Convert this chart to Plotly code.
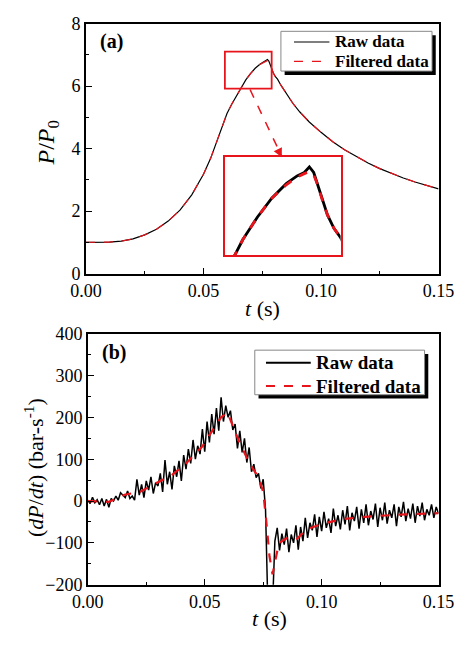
import plotly.graph_objects as go

# ---------------- data: panel (a) ----------------
t_p = [0, 0.005, 0.010, 0.015, 0.020, 0.025, 0.030, 0.035, 0.040, 0.045, 0.050,
       0.053, 0.056, 0.058, 0.060, 0.062, 0.064, 0.066, 0.068, 0.070, 0.072, 0.074,
       0.0755, 0.0765, 0.0772, 0.0778, 0.0784, 0.0790, 0.0797, 0.0806, 0.0815,
       0.0830, 0.0850, 0.0880, 0.0910, 0.0950, 0.1000, 0.1050, 0.1100, 0.1150,
       0.1200, 0.1250, 0.1300, 0.1350, 0.1400, 0.1450, 0.1500]
raw_p = [1.00, 1.00, 1.01, 1.04, 1.11, 1.24, 1.42, 1.68, 2.03, 2.52, 3.18,
         3.68, 4.30, 4.72, 5.12, 5.42, 5.69, 5.95, 6.20, 6.40, 6.57, 6.70,
         6.77, 6.80, 6.85, 6.80, 6.68, 6.55, 6.42, 6.30, 6.22,
         6.02, 5.78, 5.45, 5.17, 4.85, 4.52, 4.22, 3.96, 3.74,
         3.54, 3.36, 3.20, 3.06, 2.93, 2.81, 2.71]
filt_p = [1.00, 1.00, 1.01, 1.04, 1.11, 1.24, 1.42, 1.68, 2.03, 2.52, 3.18,
          3.68, 4.30, 4.72, 5.12, 5.42, 5.69, 5.95, 6.20, 6.40, 6.57, 6.69,
          6.76, 6.79, 6.81, 6.78, 6.68, 6.55, 6.42, 6.30, 6.22,
          6.02, 5.78, 5.45, 5.17, 4.85, 4.52, 4.22, 3.96, 3.74,
          3.54, 3.36, 3.20, 3.06, 2.93, 2.81, 2.71]

# ---------------- data: panel (b) ----------------
t_raw = [i / 1000 for i in range(151)]
raw_d = [2, -6, 9, -4, 3, -9, 6, -12, 4, -15,
         6, 0, 12, 2, 20, 14, 8, 24, 6, 12,
         2, 52, 14, 40, 8, 48, 26, 58, 18, 44,
         36, 66, 22, 98, 40, 70, 28, 84, 58, 96,
         48, 110, 76, 124, 90, 146, 100, 132, 112, 172,
         118, 190, 140, 208, 160, 222, 168, 248, 190, 228,
         200, 216, 170, 184, 126, 168, 116, 150, 92, 128,
         70, 88, 56, 66, 30, 52, -20, -250, -260, -250,
         -96, -64, -118, -78, -104, -66, -122, -80, -100, -58,
         -116, -62, -96, -40, -88, -52, -70, -32, -86, -38,
         -72, -26, -64, -42, -76, -18, -60, -34, -68, -22,
         -56, -12, -70, -28, -48, -14, -66, -20, -52, -8,
         -58, -24, -44, -6, -62, -16, -46, -4, -54, -22,
         -40, -8, -60, -14, -38, -2, -48, -18, -42, -6,
         -52, -12, -36, -4, -46, -20, -34, -8, -40, -14,
         -30]
t_filt = [0, 0.009, 0.0157, 0.0224, 0.029, 0.0357, 0.0424, 0.049, 0.053, 0.057,
          0.0597, 0.0623, 0.065, 0.0677, 0.0703, 0.073, 0.075, 0.0763, 0.0777,
          0.079, 0.0803, 0.0817, 0.085, 0.089, 0.093, 0.0996, 0.109, 0.1223,
          0.1356, 0.15]
filt_d = [0, -2, 15, 22, 42, 61, 92, 131, 166, 200,
          212, 177, 138, 107, 80, 57, 22, -47, -132,
          -175, -140, -101, -89, -93, -70, -55, -43, -36,
          -32, -29]

legend_names = ["Raw data", "Filtered data"]

W, H = 476, 648
FONT = "'Liberation Serif', 'Times New Roman', Times, serif"
RED = "#e8141b"


def px(x):
    return x / W


def py(y):
    return 1 - y / H


fig = go.Figure()

# panel (a)
fig.add_trace(go.Scatter(x=t_p, y=raw_p, mode="lines", name=legend_names[0],
                         line=dict(color="black", width=1.2), xaxis="x", yaxis="y"))
fig.add_trace(go.Scatter(x=t_p, y=filt_p, mode="lines", name=legend_names[1],
                         line=dict(color=RED, width=1.2, dash="dash"), xaxis="x", yaxis="y"))
# inset
fig.add_trace(go.Scatter(x=t_p, y=raw_p, mode="lines", line=dict(color="black", width=2.8),
                         xaxis="x3", yaxis="y3"))
fig.add_trace(go.Scatter(x=t_p, y=filt_p, mode="lines",
                         line=dict(color=RED, width=2.8, dash="dash"), xaxis="x3", yaxis="y3"))
# panel (b)
fig.add_trace(go.Scatter(x=t_raw, y=raw_d, mode="lines", name=legend_names[0],
                         line=dict(color="black", width=1.5), xaxis="x2", yaxis="y2"))
fig.add_trace(go.Scatter(x=t_filt, y=filt_d, mode="lines", name=legend_names[1],
                         line=dict(color=RED, width=2.2, dash="dash"), xaxis="x2", yaxis="y2"))

tickfont = dict(family=FONT, size=18, color="black")
axis_common = dict(showline=True, linecolor="black", linewidth=1.5, mirror=True,
                   ticks="inside", ticklen=6, tickwidth=1.3, tickcolor="black",
                   showgrid=False, zeroline=False, tickfont=tickfont)
xticks = dict(tickvals=[0, 0.05, 0.10, 0.15], ticktext=["0.00", "0.05", "0.10", "0.15"],
              minor=dict(ticks="inside", ticklen=3, tickcolor="black", dtick=0.025, tick0=0))

fig.update_layout(
    width=W, height=H, margin=dict(l=0, r=0, t=0, b=0),
    paper_bgcolor="white", plot_bgcolor="white", showlegend=False,
    xaxis=dict(domain=[px(75), px(453)], range=[0, 0.15], anchor="y", **xticks, **axis_common),
    yaxis=dict(domain=[py(272), py(14)], range=[0, 8], anchor="x", dtick=2,
               minor=dict(ticks="inside", ticklen=3, tickcolor="black", dtick=1, tick0=0),
               **axis_common),
    xaxis2=dict(domain=[px(77), px(453)], range=[0, 0.15], anchor="y2", **xticks, **axis_common),
    yaxis2=dict(domain=[py(593), py(334)], range=[-200, 400], anchor="x2", dtick=100,
                minor=dict(ticks="inside", ticklen=3, tickcolor="black", dtick=50, tick0=0),
                **axis_common),
    xaxis3=dict(domain=[px(224), px(348)], range=[0.06552, 0.08152], anchor="y3",
                showline=True, linecolor=RED, linewidth=1.8, mirror=True,
                showticklabels=False, ticks="", showgrid=False, zeroline=False),
    yaxis3=dict(domain=[py(253), py(152)], range=[6.06, 6.936], anchor="x3",
                showline=True, linecolor=RED, linewidth=1.8, mirror=True,
                showticklabels=False, ticks="", showgrid=False, zeroline=False),
)


def paper_rect(x0, y0, x1, y1, **kw):
    return dict(type="rect", xref="paper", yref="paper", x0=px(x0), x1=px(x1),
                y0=py(y1), y1=py(y0), layer="above", **kw)


def paper_line(x0, y0, x1, y1, color, width, dash="solid"):
    return dict(type="line", xref="paper", yref="paper", x0=px(x0), x1=px(x1),
                y0=py(y0), y1=py(y1), layer="above",
                line=dict(color=color, width=width, dash=dash))


shapes = [
    # small zoom box in panel (a)
    dict(type="rect", xref="x", yref="y", x0=0.0591, x1=0.0790, y0=5.92, y1=7.10,
         line=dict(color=RED, width=1.8), layer="above"),
    # dashed connector arrow
    dict(type="line", xref="x", yref="y", x0=0.0698, y0=5.89, x1=0.0831, y1=3.78,
         line=dict(color=RED, width=1.5, dash="dash"), layer="above"),
    # legend (a): shadow, box, samples
    paper_rect(288, 26, 450, 67, fillcolor="black", line=dict(width=0)),
    paper_rect(284, 22, 446, 63, fillcolor="white", line=dict(color="#888888", width=1)),
    paper_line(298, 33, 336, 33, "black", 1.2),
    paper_line(298, 53, 336, 53, RED, 1.3, "dash"),
    # legend (b)
    paper_rect(260, 355, 442, 401, fillcolor="black", line=dict(width=0)),
    paper_rect(256, 351, 438, 397, fillcolor="white", line=dict(color="#888888", width=1)),
    paper_line(268, 364, 316, 364, "black", 1.8),
    paper_line(268, 388, 316, 388, RED, 2.2, "dash"),
]
fig.update_layout(shapes=shapes)


def ptext(x, y, text, size, xanchor="left", angle=0):
    return dict(x=px(x), y=py(y), xref="paper", yref="paper", xanchor=xanchor,
                yanchor="middle", text=text, showarrow=False, textangle=angle,
                font=dict(family=FONT, size=size, color="black"))


annotations = [
    dict(x=0.0833, y=3.72, xref="x", yref="y", ax=-3.5, ay=-7.2, axref="pixel",
         ayref="pixel", text="", showarrow=True, arrowhead=2, arrowsize=1.2,
         arrowwidth=1.5, arrowcolor=RED),
    ptext(340, 33, "<b>%s</b>" % legend_names[0], 17),
    ptext(340, 53, "<b>%s</b>" % legend_names[1], 17),
    ptext(319, 364, "<b>%s</b>" % legend_names[0], 19),
    ptext(319, 388, "<b>%s</b>" % legend_names[1], 19),
    ptext(88, 32, "<b>(a)</b>", 20),
    ptext(90, 353, "<b>(b)</b>", 20),
    ptext(264, 308, "<i>t</i> (s)", 22, "center"),
    ptext(272, 628, "<i>t</i> (s)", 22, "center"),
    ptext(34, 137, "<i>P</i>/<i>P</i><sub>0</sub>", 24, "center", -90),
    ptext(20, 472, "(<i>dP</i>/<i>dt</i>) (bar-s<sup>-1</sup>)", 22, "center", -90),
]
fig.update_layout(annotations=annotations)

fig.write_html("out.html", config={"displayModeBar": False},
               post_script="document.body.style.margin='0';")
